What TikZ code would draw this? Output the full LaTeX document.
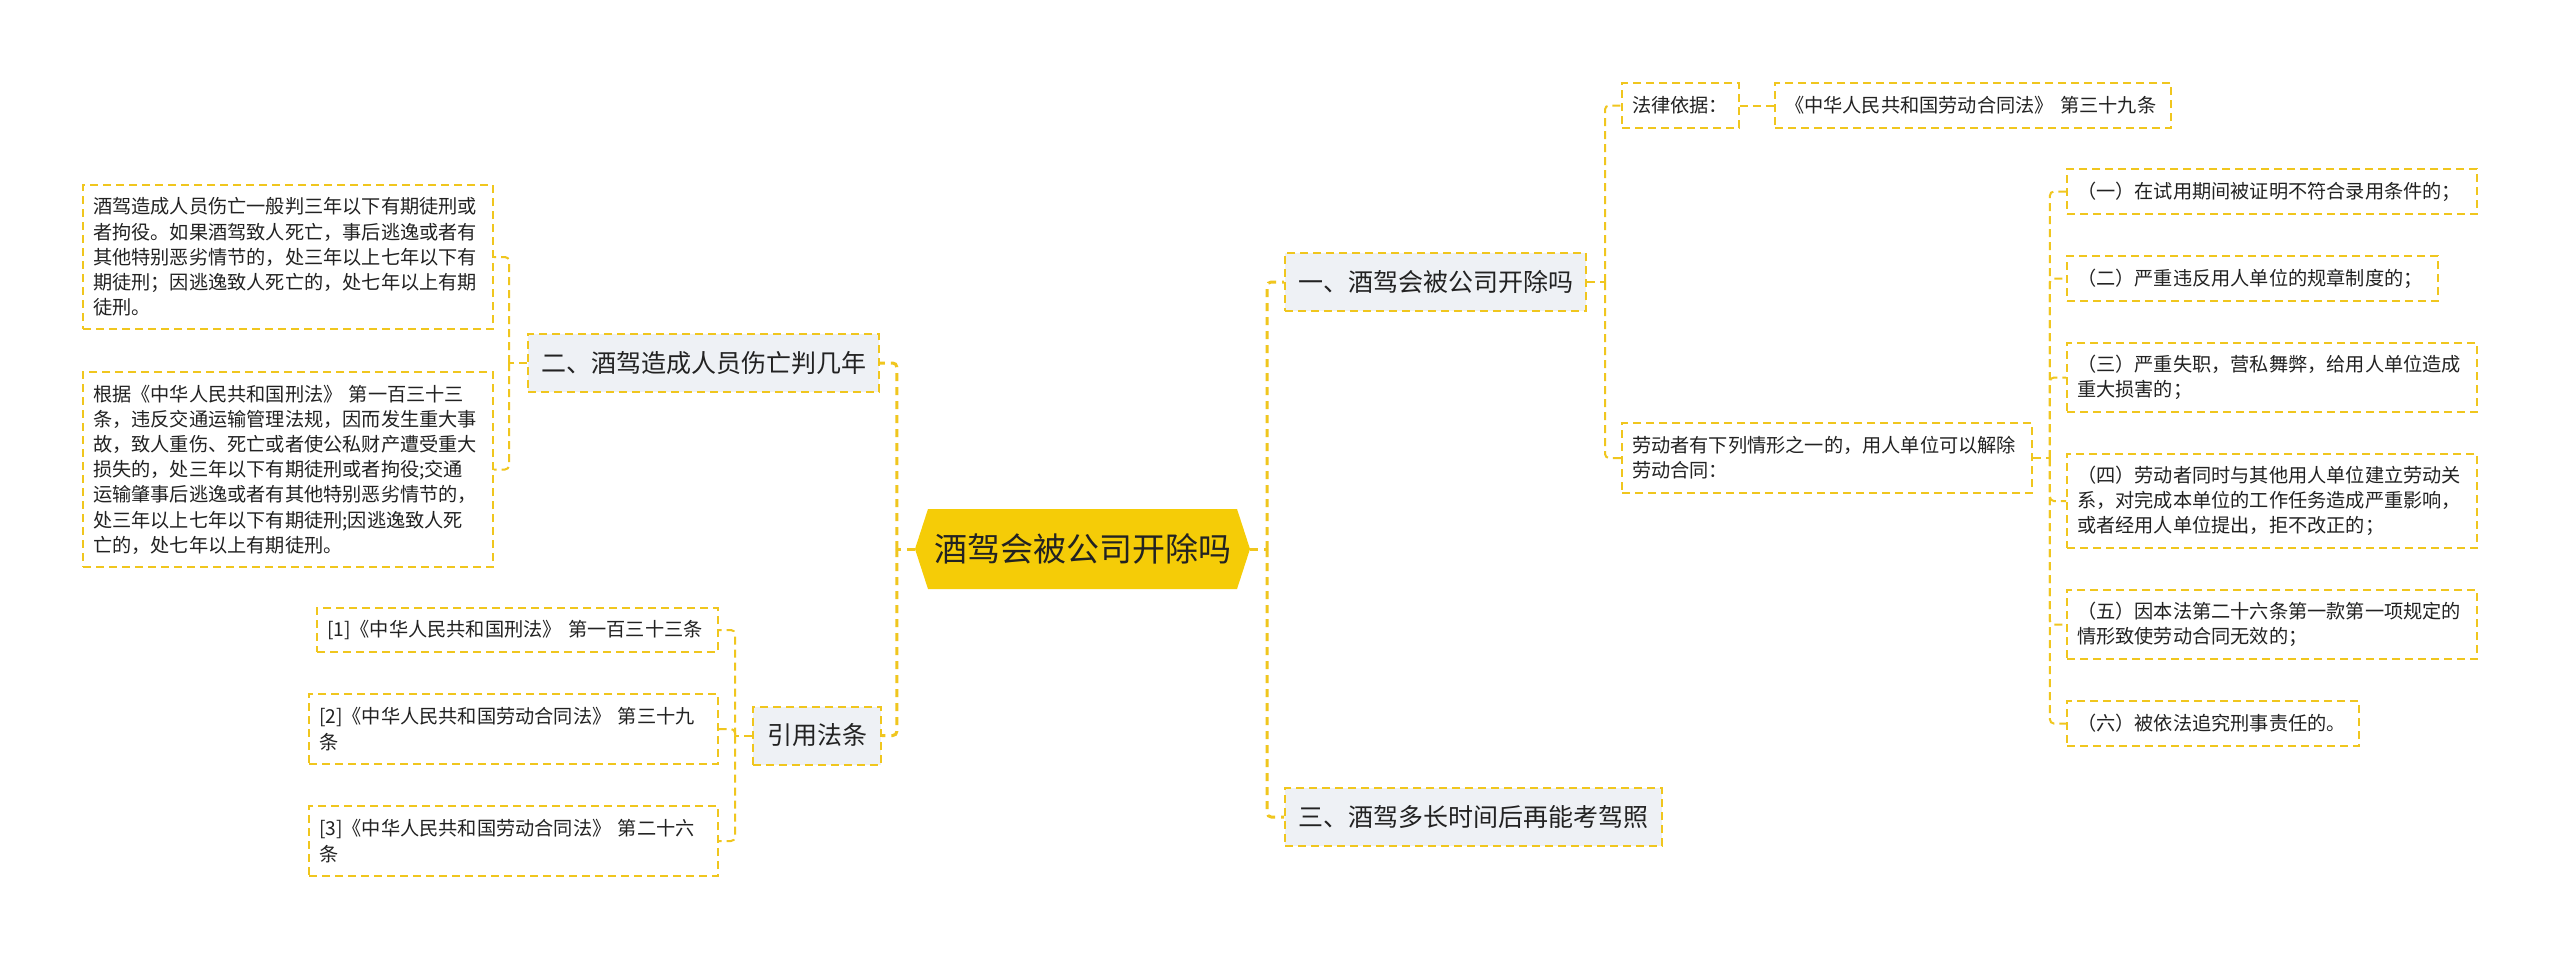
\documentclass[tikz,border=0pt]{standalone}
\usepackage{fontspec}
\setmainfont{Noto Sans CJK SC}
\definecolor{mapyellow}{RGB}{240,198,30}
\definecolor{hubyellow}{RGB}{245,204,7}
\definecolor{topicgray}{RGB}{238,241,245}
\definecolor{inkgray}{RGB}{34,34,34}

\begin{document}
\begin{tikzpicture}
[x=1pt,y=-1pt,
hubnode/.style={inner sep=0pt,minimum width=335pt,minimum height=80pt,
text=inkgray,font=\fontsize{33}{40}\selectfont},
topicnode/.style={draw=mapyellow,fill=topicgray,line width=2pt,
dash pattern=on 8pt off 5pt,inner sep=0pt,minimum height=58pt,
text=inkgray,font=\fontsize{25}{30}\selectfont},
leafnode/.style={draw=mapyellow,line width=1.8pt,dash pattern=on 8pt off 5pt,
inner xsep=10pt,inner ysep=0pt,align=left,text=inkgray,
font=\fontsize{19.2}{25.2}\selectfont},
trunkline/.style={draw=mapyellow,line width=3pt,dash pattern=on 8pt off 6pt,
rounded corners=4pt},
twigline/.style={draw=mapyellow,line width=2pt,dash pattern=on 8pt off 5pt,
rounded corners=4pt}]
       \useasboundingbox (0,0) rectangle (2560,959);
       \fill[white] (0,0) rectangle (2560,959);
       % centre
       \fill[hubyellow] (915,549) -- (928,509) -- (1237,509) -- (1250,549)
             -- (1237,589) -- (928,589) -- cycle;
       \node (hub) at (1082.5,549) [hubnode] {酒驾会被公司开除吗};
       % left side
       \node (n2) at (703.5,363) [topicnode,minimum width=351pt] {二、酒驾造成人员伤亡判几年};
       \node (cite) at (817,735.5) [topicnode,minimum width=128pt] {引用法条};
       \node (d1) at (288,257) [leafnode,text width=390pt,minimum height=144pt]
             {酒驾造成人员伤亡一般判三年以下有期徒刑或\\者拘役。如果酒驾致人死亡，事后逃逸或者有\\其他特别恶劣情节的，处三年以上七年以下有\\期徒刑；因逃逸致人死亡的，处七年以上有期\\徒刑。};
       \node (d2) at (288,469.5) [leafnode,text width=390pt,minimum height=195pt]
             {根据《中华人民共和国刑法》 第一百三十三\\条，违反交通运输管理法规，因而发生重大事\\故，致人重伤、死亡或者使公私财产遭受重大\\损失的，处三年以下有期徒刑或者拘役;交通\\运输肇事后逃逸或者有其他特别恶劣情节的，\\处三年以上七年以下有期徒刑;因逃逸致人死\\亡的，处七年以上有期徒刑。};
       \node (c1) at (517.5,630) [leafnode,text width=381pt,minimum height=44pt]
             {[1]《中华人民共和国刑法》 第一百三十三条};
       \node (c2) at (513.5,729) [leafnode,text width=389pt,minimum height=70pt]
             {[2]《中华人民共和国劳动合同法》 第三十九\\条};
       \node (c3) at (513.5,841) [leafnode,text width=389pt,minimum height=70pt]
             {[3]《中华人民共和国劳动合同法》 第二十六\\条};
       % right side
       \node (n1) at (1435.5,282) [topicnode,minimum width=301pt] {一、酒驾会被公司开除吗};
       \node (n3) at (1473.5,817) [topicnode,minimum width=377pt] {三、酒驾多长时间后再能考驾照};
       \node (basis) at (1680.5,105.5) [leafnode,text width=97pt,minimum height=45pt] {法律依据：};
       \node (law39) at (1973,105.5) [leafnode,text width=376pt,minimum height=45pt]
             {《中华人民共和国劳动合同法》 第三十九条};
       \node (cond) at (1827,458) [leafnode,text width=390pt,minimum height=70pt]
             {劳动者有下列情形之一的，用人单位可以解除\\劳动合同：};
       \node (i1) at (2272,191.5) [leafnode,text width=390pt,minimum height=45pt]
             {（一）在试用期间被证明不符合录用条件的；};
       \node (i2) at (2252.5,278.5) [leafnode,text width=351pt,minimum height=45pt]
             {（二）严重违反用人单位的规章制度的；};
       \node (i3) at (2272,377.5) [leafnode,text width=390pt,minimum height=69pt]
             {（三）严重失职，营私舞弊，给用人单位造成\\重大损害的；};
       \node (i4) at (2272,501) [leafnode,text width=390pt,minimum height=94pt]
             {（四）劳动者同时与其他用人单位建立劳动关\\系，对完成本单位的工作任务造成严重影响，\\或者经用人单位提出，拒不改正的；};
       \node (i5) at (2272,624.5) [leafnode,text width=390pt,minimum height=69pt]
             {（五）因本法第二十六条第一款第一项规定的\\情形致使劳动合同无效的；};
       \node (i6) at (2213,723.5) [leafnode,text width=272pt,minimum height=45pt]
             {（六）被依法追究刑事责任的。};
       % connectors
       \coordinate (hl) at ([xshift=-18pt]hub.west);
       \coordinate (hr) at ([xshift=17pt]hub.east);
       \draw[trunkline] (hub.west) -- (hl);
       \draw[trunkline] (hl) |- (n2.east);
       \draw[trunkline] (hl) |- (cite.east);
       \draw[trunkline] (hub.east) -- (hr);
       \draw[trunkline] (hr) |- (n1.west);
       \draw[trunkline] (hr) |- (n3.west);
       \coordinate (b2) at ([xshift=-18pt]n2.west);
       \draw[twigline] (n2.west) -- (b2);
       \draw[twigline] (b2) |- (d1.east);
       \draw[twigline] (b2) |- (d2.east);
       \coordinate (bc) at ([xshift=-17pt]cite.west);
       \draw[twigline] (cite.west) -- (bc);
       \foreach \c in {c1,c2,c3}
           \draw[twigline] (bc) |- (\c.east);
       \coordinate (b1) at ([xshift=18pt]n1.east);
       \draw[twigline] (n1.east) -- (b1);
       \draw[twigline] (b1) |- (basis.west);
       \draw[twigline] (b1) |- (cond.west);
       \draw[twigline] (basis.east) -- (law39.west);
       \coordinate (bk) at ([xshift=17pt]cond.east);
       \draw[twigline] (cond.east) -- (bk);
       \foreach \i in {i1,i2,i3,i4,i5,i6}
           \draw[twigline] (bk) |- (\i.west);
    \end{tikzpicture}
\end{document}
